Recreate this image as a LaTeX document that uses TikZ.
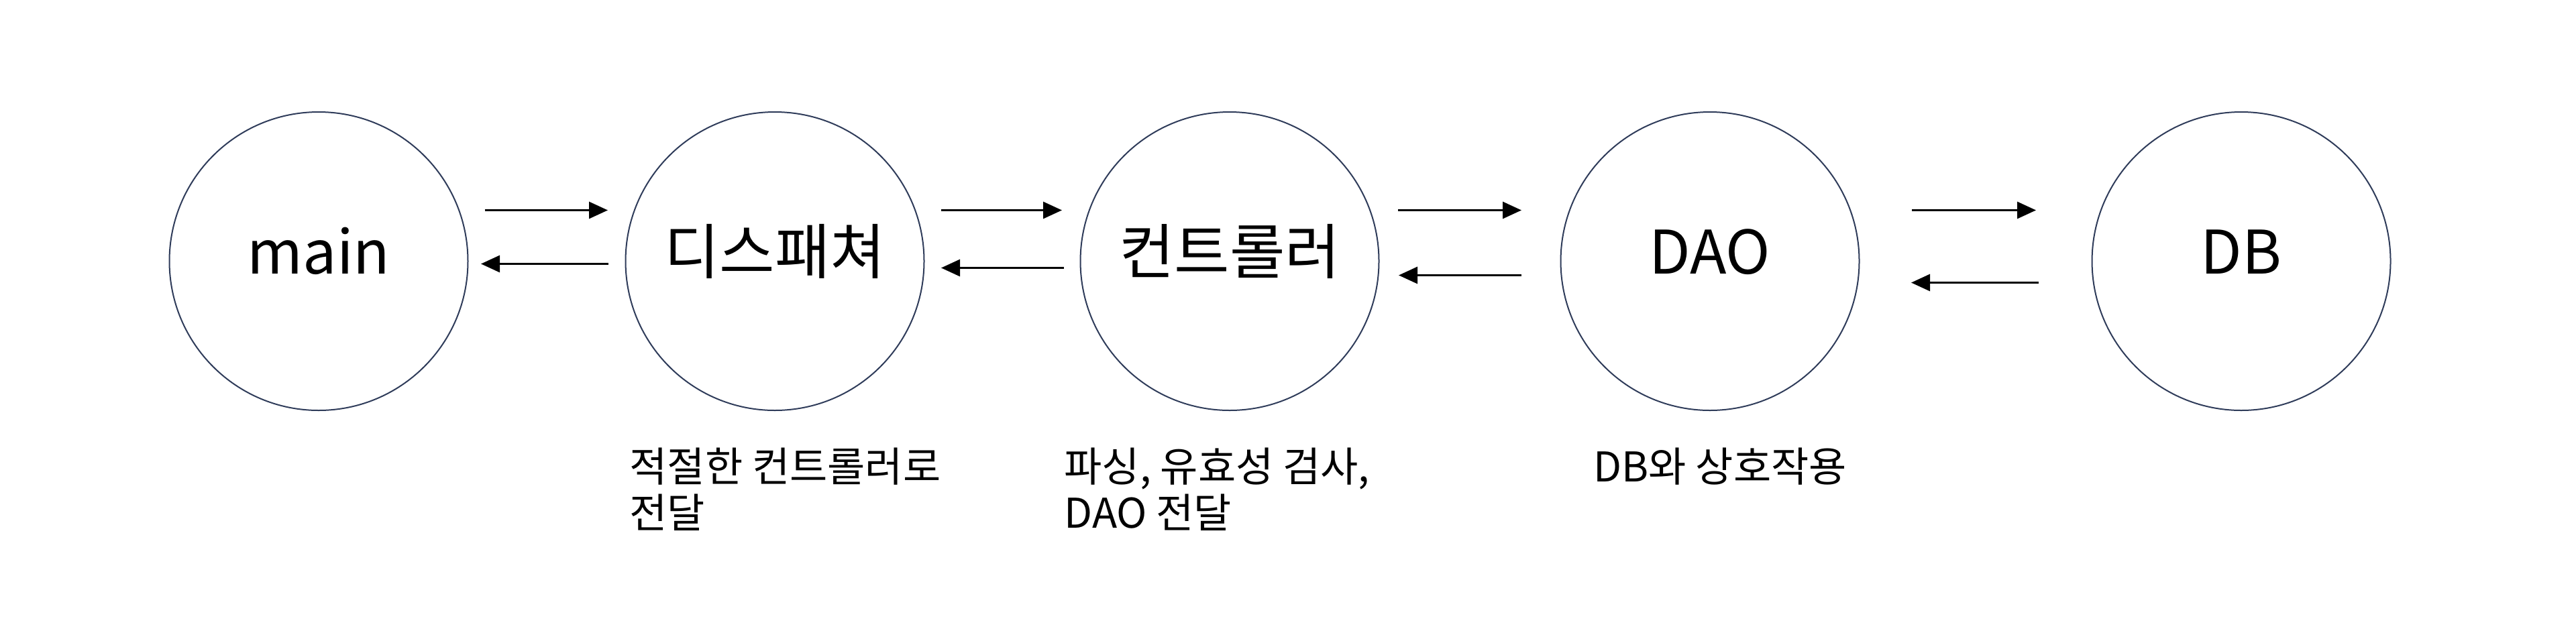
\documentclass[tikz,border=0pt]{standalone}
\usepackage{fontspec}
\setmainfont{Noto Sans CJK KR}
\usepackage{xcolor}
\usetikzlibrary{positioning,arrows.meta}

\definecolor{ringcol}{HTML}{2F3C5A}

\tikzset{
  ring/.style={circle, draw=ringcol, line width=0.02cm, minimum size=4.45cm, inner sep=0pt, text height=0.6cm, text depth=0.23cm, font=\fontsize{25.5}{30}\selectfont},
  flow/.style={line width=0.03cm, -{Triangle[length=0.28cm, width=0.25cm]}},
  note/.style={anchor=base west, align=left, inner sep=0pt, font=\fontsize{17.4}{19.6}\selectfont}
}

\begin{document}
\begin{tikzpicture}
        % Marco de la imagen
        \useasboundingbox (0, 0) rectangle (38.4, -9.46);

        % Nodos principales
        \node[ring] (main) at (4.75, -3.895) {main};
        \node[ring, right=2.33cm of main] (disp) {디스패쳐};
        \node[ring, right=2.31cm of disp] (ctrl) {컨트롤러};
        \node[ring, right=2.69cm of ctrl] (dao) {DAO};
        \node[ring, right=3.45cm of dao] (db) {DB};

        % main <-> 디스패쳐
        \draw[flow] ([xshift=0.24cm, yshift=0.76cm]main.east) -- ([xshift=-0.255cm, yshift=0.76cm]disp.west);
        \draw[flow] ([xshift=-0.245cm, yshift=-0.04cm]disp.west) -- ([xshift=0.185cm, yshift=-0.04cm]main.east);

        % 디스패쳐 <-> 컨트롤러
        \draw[flow] ([xshift=0.245cm, yshift=0.76cm]disp.east) -- ([xshift=-0.265cm, yshift=0.76cm]ctrl.west);
        \draw[flow] ([xshift=-0.235cm, yshift=-0.10cm]ctrl.west) -- ([xshift=0.245cm, yshift=-0.10cm]disp.east);

        % 컨트롤러 <-> DAO
        \draw[flow] ([xshift=0.275cm, yshift=0.76cm]ctrl.east) -- ([xshift=-0.575cm, yshift=0.76cm]dao.west);
        \draw[flow] ([xshift=-0.575cm, yshift=-0.21cm]dao.west) -- ([xshift=0.285cm, yshift=-0.21cm]ctrl.east);

        % DAO <-> DB
        \draw[flow] ([xshift=0.775cm, yshift=0.76cm]dao.east) -- ([xshift=-0.825cm, yshift=0.76cm]db.west);
        \draw[flow] ([xshift=-0.785cm, yshift=-0.32cm]db.west) -- ([xshift=0.765cm, yshift=-0.32cm]dao.east);

        % Descripciones
        \node[note] (dispnote) at (9.38, -7.87) {적절한 컨트롤러로\\전달};
        \node[note] (ctrlnote) at (15.86, -7.87) {파싱, 유효성 검사,\\DAO 전달};
        \node[note] (daonote) at (23.75, -7.18) {DB와 상호작용};

    \end{tikzpicture}
\end{document}
